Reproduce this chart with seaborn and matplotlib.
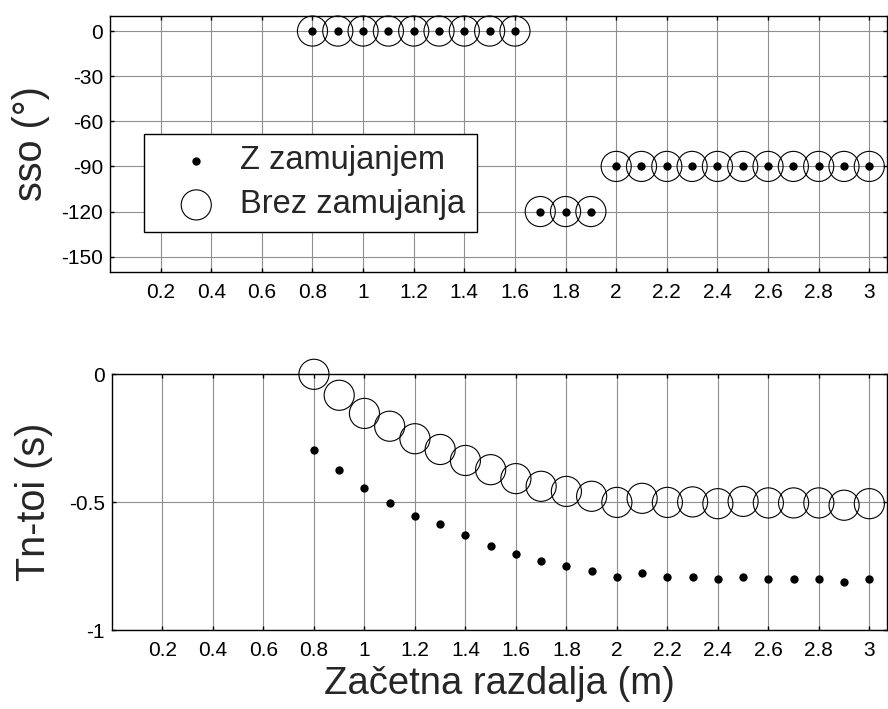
import numpy as np
import pandas as pd
import matplotlib
matplotlib.use("Agg")
import matplotlib.pyplot as plt
import seaborn as sns

# Podatki (odčitani z grafa)
razdalja = [0.8, 0.9, 1.0, 1.1, 1.2, 1.3, 1.4, 1.5, 1.6, 1.7, 1.8, 1.9,
            2.0, 2.1, 2.2, 2.3, 2.4, 2.5, 2.6, 2.7, 2.8, 2.9, 3.0]
sso_z = [0, 0, 0, 0, 0, 0, 0, 0, 0, -120, -120, -120,
         -90, -90, -90, -90, -90, -90, -90, -90, -90, -90, -90]
sso_brez = [0, 0, 0, 0, 0, 0, 0, 0, 0, -120, -120, -120,
            -90, -90, -90, -90, -90, -90, -90, -90, -90, -90, -90]
tn_z = [-0.297, -0.375, -0.446, -0.503, -0.553, -0.587, -0.630, -0.672,
        -0.701, -0.729, -0.750, -0.771, -0.792, -0.778, -0.792, -0.792,
        -0.800, -0.792, -0.800, -0.800, -0.800, -0.813, -0.800]
tn_brez = [0.0, -0.082, -0.153, -0.203, -0.252, -0.294, -0.337, -0.373,
           -0.408, -0.438, -0.458, -0.477, -0.501, -0.485, -0.501, -0.499,
           -0.506, -0.497, -0.503, -0.503, -0.503, -0.512, -0.506]

x_ticks = [0.2, 0.4, 0.6, 0.8, 1.0, 1.2, 1.4, 1.6, 1.8, 2.0, 2.2, 2.4, 2.6, 2.8, 3.0]
x_labels = ['0.2', '0.4', '0.6', '0.8', '1', '1.2', '1.4', '1.6', '1.8', '2',
            '2.2', '2.4', '2.6', '2.8', '3']
sso_ticks = [0, -30, -60, -90, -120, -150]
tn_ticks = [0, -0.5, -1]
tn_labels = ['0', '-0.5', '-1']

df = pd.DataFrame({'x': razdalja, 'sso_z': sso_z, 'sso_brez': sso_brez,
                   'tn_z': tn_z, 'tn_brez': tn_brez})

sns.set_theme(style='white')
plt.rcParams['font.family'] = ['Liberation Sans', 'DejaVu Sans']
plt.rcParams['axes.unicode_minus'] = False

fig = plt.figure(figsize=(8.88, 7.09), dpi=100)
ax1 = fig.add_axes([110 / 888, 1 - 271.7 / 709, 777 / 888, 255.7 / 709])
ax2 = fig.add_axes([112 / 888, 1 - 630 / 709, 775 / 888, 255.7 / 709])


def narisi(ax, ycol_z, ycol_brez):
    sns.scatterplot(data=df, x='x', y=ycol_z, ax=ax, s=36, color='black',
                    edgecolor='black', linewidth=0, label='Z zamujanjem',
                    clip_on=False, zorder=3)
    sns.scatterplot(data=df, x='x', y=ycol_brez, ax=ax, s=470, marker='o',
                    facecolors='none', edgecolor='black', linewidth=0.8,
                    label='Brez zamujanja', clip_on=False, zorder=3)


def oblikuj(ax):
    ax.set_xlim(0, 3.07)
    ax.set_xticks(x_ticks)
    ax.set_xticklabels(x_labels)
    ax.grid(True, color='#8f8f8f', linewidth=0.8)
    ax.set_axisbelow(True)
    ax.tick_params(axis='both', direction='in', length=3, width=1,
                   colors='black', labelsize=15,
                   top=True, right=True, bottom=True, left=True)
    ax.tick_params(axis='x', pad=8)
    ax.tick_params(axis='y', pad=5)
    for sp in ax.spines.values():
        sp.set_color('black')
        sp.set_linewidth(1.0)


# zgornji graf
narisi(ax1, 'sso_z', 'sso_brez')
oblikuj(ax1)
ax1.set_ylim(-160, 10)
ax1.set_yticks(sso_ticks)
ax1.set_xlabel('')
ax1.set_ylabel('sso (°)', fontsize=28.5)
ax1.yaxis.set_label_coords(-0.077, 0.5)
leg = ax1.legend(loc='upper left', bbox_to_anchor=(0.0438, 0.5385),
                 borderaxespad=0, fontsize=23.5, frameon=True, fancybox=False,
                 edgecolor='black', framealpha=1, handletextpad=0.1,
                 borderpad=0.35, labelspacing=0.4, handlelength=2.5)
leg.get_frame().set_linewidth(1.0)

# spodnji graf
narisi(ax2, 'tn_z', 'tn_brez')
oblikuj(ax2)
ax2.set_ylim(-1, 0)
ax2.set_yticks(tn_ticks)
ax2.set_yticklabels(tn_labels)
ax2.set_ylabel('Tn-toi (s)', fontsize=28.5)
ax2.yaxis.set_label_coords(-0.076, 0.5)
ax2.set_xlabel('Začetna razdalja (m)', fontsize=27.5)
ax2.xaxis.set_label_coords(0.5, -0.14)
ax2.get_legend().remove()

fig.savefig('out.png', dpi=100)
